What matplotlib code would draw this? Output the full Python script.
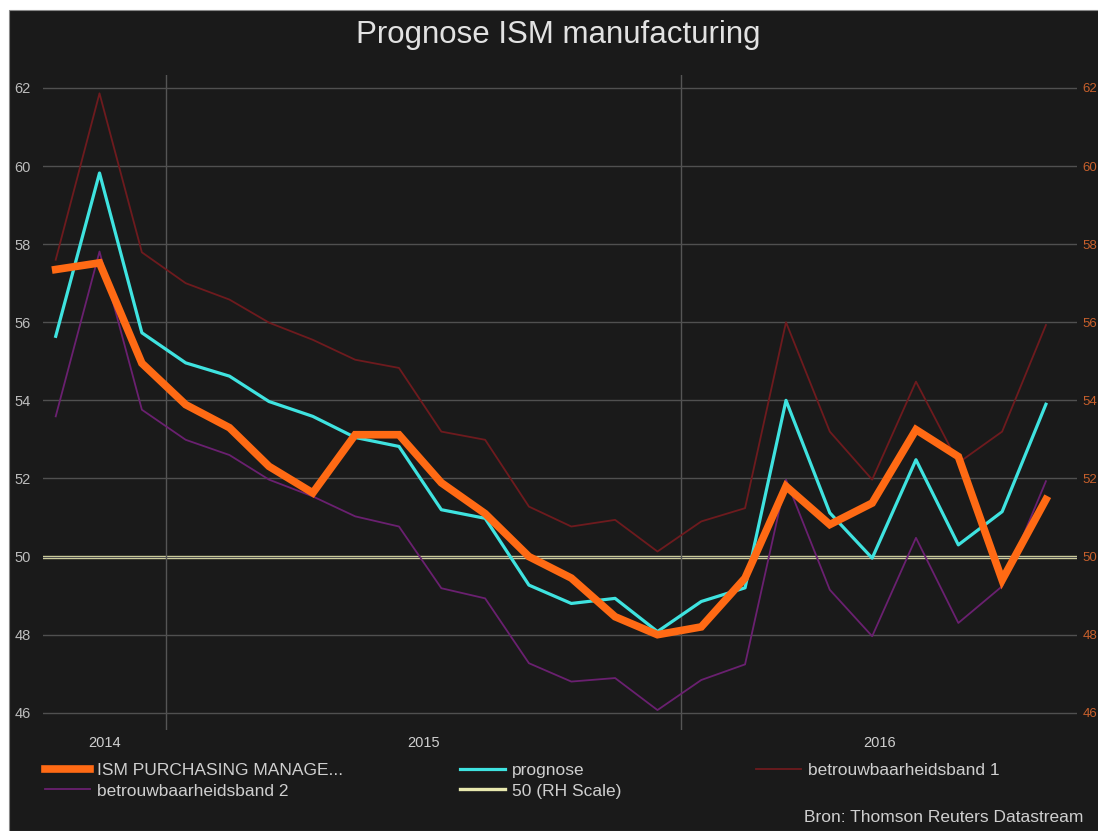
import matplotlib.pyplot as plt
from matplotlib.patches import Rectangle
import pandas as pd

plt.rcParams['font.family'] = ['Liberation Sans', 'DejaVu Sans']

# monthly observations, Oct 2014 - Sep 2016 (plotted mid-month)
months = pd.date_range('2014-10-01', periods=24, freq='MS') + pd.Timedelta(days=14)

ism = [57.35, 57.52, 54.95, 53.89, 53.3, 52.31, 51.63, 53.12, 53.12, 51.89, 51.1, 50.0,
       49.45, 48.46, 48.0, 48.2, 49.45, 51.8, 50.82, 51.37, 53.25, 52.56, 49.4, 51.46]
prognose = [55.64, 59.82, 55.73, 54.96, 54.62, 53.97, 53.59, 53.05, 52.82, 51.2, 50.98, 49.27,
            48.8, 48.93, 48.08, 48.85, 49.2, 54.0, 51.12, 49.96, 52.48, 50.3, 51.15, 53.9]
band1 = [57.6, 61.86, 57.79, 57.0, 56.58, 55.99, 55.55, 55.04, 54.83, 53.2, 52.99, 51.28,
         50.77, 50.94, 50.13, 50.9, 51.24, 56.0, 53.2, 51.97, 54.48, 52.4, 53.2, 55.93]
band2 = [53.59, 57.81, 53.76, 52.99, 52.6, 51.97, 51.54, 51.03, 50.77, 49.19, 48.93, 47.27,
         46.8, 46.89, 46.07, 46.84, 47.24, 51.97, 49.15, 47.96, 50.48, 48.3, 49.24, 51.93]
level50 = 50

yticks = [46, 48, 50, 52, 54, 56, 58, 60, 62]
years = [2014, 2015, 2016]

bg = '#1a1a1a'
fig = plt.figure(figsize=(10.98, 8.31), dpi=100, facecolor='white')
fig.patches.append(Rectangle((9 / 1098, 0), 1, 821 / 831, transform=fig.transFigure,
                             facecolor=bg, edgecolor='#888888', lw=0.8, zorder=-5))

ax = fig.add_axes([43 / 1098, 1 - 730 / 831, (1077 - 43) / 1098, (730 - 75) / 831])
ax2 = ax.twinx()
ax2.set_facecolor(bg)
ax.set_zorder(ax2.get_zorder() + 1)
ax.patch.set_visible(False)

ax.plot(months, band1, color='#6e1a1e', lw=1.3)
ax.plot(months, band2, color='#6a2070', lw=1.3)
ax.plot(months, prognose, color='#3fe3e0', lw=2.3)
ax.plot(months, ism, color='#ff6a14', lw=5.5, solid_joinstyle='miter')
h50 = ax2.axhline(level50, color='#e8e8ae', lw=2.4)

x0 = months[0] - pd.Timedelta(days=9)
x1 = months[-1] + pd.Timedelta(days=22)
for a in (ax, ax2):
    a.set_xlim(x0, x1)
    a.set_ylim(45.56, 62.33)
    a.set_yticks(yticks)
    for s in a.spines.values():
        s.set_visible(False)

ax.grid(axis='y', color='#505050', lw=1)
ax.tick_params(axis='y', length=0, pad=9, labelsize=10.5, labelcolor='#bdbdbd')
ax2.tick_params(axis='y', length=0, pad=4, labelsize=9.5, labelcolor='#c8602c')

# year boundaries as major gridlines, year labels centred in each visible span
bounds = [pd.Timestamp(f'{y}-01-01') for y in years[1:]]
ax.set_xticks(bounds)
ax.set_xticklabels([])
ax.grid(axis='x', which='major', color='#555555', lw=1)
centers = []
for y in years:
    lo = max(pd.Timestamp(f'{y}-01-01'), x0)
    hi = min(pd.Timestamp(f'{y + 1}-01-01'), x1)
    centers.append(lo + (hi - lo) / 2)
ax.set_xticks(centers, minor=True)
ax.set_xticklabels([str(y) for y in years], minor=True)
ax.tick_params(axis='x', which='both', length=0, pad=4, labelsize=10.5, labelcolor='#cfcfcf')

fig.text(0.508, 1 - 35 / 831, 'Prognose ISM manufacturing', ha='center', va='center',
         fontsize=22.5, color='#e2e2e2')

lines = ax.get_lines()
leg_kw = dict(loc='upper left', frameon=False, fontsize=12.5, labelcolor='#cfcfcf',
              handlelength=2.6, handletextpad=0.4, labelspacing=0.3, borderpad=0, borderaxespad=0)
top = 1 - 763 / 831
fig.legend([lines[3], lines[1]], ['ISM PURCHASING MANAGE...', 'betrouwbaarheidsband 2'],
           bbox_to_anchor=(45 / 1098, top), **leg_kw)
fig.legend([lines[2], h50], ['prognose', '50 (RH Scale)'],
           bbox_to_anchor=(460 / 1098, top), **leg_kw)
fig.legend([lines[0]], ['betrouwbaarheidsband 1'],
           bbox_to_anchor=(756 / 1098, top), **leg_kw)

fig.text(1083 / 1098, 1 - 818 / 831, 'Bron: Thomson Reuters Datastream', ha='right', va='center',
         fontsize=12.5, color='#cfcfcf')

fig.savefig('out.png', dpi=100, facecolor=fig.get_facecolor())
